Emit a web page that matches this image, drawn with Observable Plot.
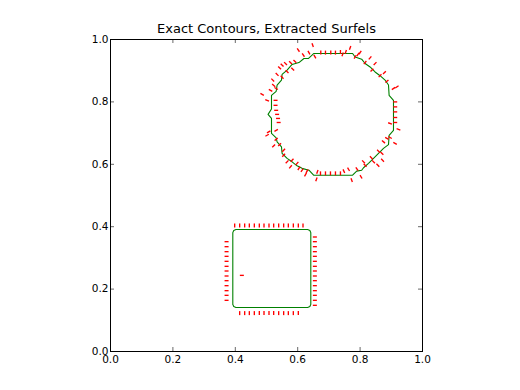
<!DOCTYPE html>
<html>
<head>
<meta charset="utf-8">
<script src="https://cdn.jsdelivr.net/npm/d3@7"></script>
<script src="https://cdn.jsdelivr.net/npm/@observablehq/plot@0.6"></script>
<style>
  html, body { margin: 0; padding: 0; background: #fff; }
  #chart { width: 520px; height: 390px; }
</style>
</head>
<body>
<div id="chart"></div>
<script>
const title = "Exact Contours, Extracted Surfels";
const xTicks = [0, 0.2, 0.4, 0.6, 0.8, 1.0];
const yTicks = [0, 0.2, 0.4, 0.6, 0.8, 1.0];

// Exact contour 1: rounded square
const squareX = [0.392,0.392,0.395,0.402,0.632,0.639,0.642,0.642,0.639,0.632,0.402,0.395,0.392];
const squareY = [0.151,0.381,0.388,0.391,0.391,0.388,0.381,0.151,0.144,0.141,0.141,0.144,0.151];

// Exact contour 2: polygonal circle
const circleX = [0.651,0.776,0.784,0.805,0.816,0.832,0.848,0.864,0.880,0.891,0.893,0.907,0.907,0.893,0.891,0.875,0.859,0.843,0.827,0.811,0.805,0.789,0.776,0.651,0.636,0.614,0.598,0.582,0.566,0.550,0.548,0.534,0.531,0.516,0.516,0.505,0.516,0.516,0.531,0.534,0.548,0.550,0.566,0.582,0.604,0.620,0.634,0.651];
const circleY = [0.955,0.955,0.944,0.937,0.923,0.912,0.896,0.884,0.870,0.854,0.821,0.805,0.709,0.693,0.663,0.651,0.635,0.619,0.603,0.589,0.581,0.578,0.565,0.565,0.581,0.587,0.595,0.608,0.619,0.635,0.656,0.672,0.685,0.699,0.747,0.760,0.777,0.821,0.834,0.854,0.870,0.888,0.902,0.920,0.926,0.939,0.939,0.955];

// Extracted surfels: centre x, centre y, normal angle (degrees)
const surfX = [
  0.398,0.414,0.430,0.445,0.461,0.477,0.492,0.508,0.523,0.539,0.555,0.570,0.586,0.602,0.617,
  0.372,0.372,0.372,0.372,0.372,0.372,0.372,0.372,0.372,0.372,0.372,0.372,0.372,
  0.655,0.655,0.655,0.655,0.655,0.655,0.655,0.655,0.655,0.655,0.655,0.655,0.655,0.655,0.655,
  0.414,0.430,0.445,0.461,0.477,0.492,0.508,0.523,0.539,0.555,0.570,0.586,0.602,
  0.421,
  0.648,0.636,0.655,0.674,0.689,0.706,0.721,0.737,0.602,0.618,0.591,0.577,0.561,0.550,0.584,0.542,0.566,0.534,0.550,0.520,0.523,0.513,0.531,0.486,0.502,0.529,0.529,
  0.531,0.534,0.537,0.539,0.507,0.502,0.531,0.531,0.523,0.542,0.555,0.555,0.566,0.582,0.577,0.598,0.604,0.614,0.630,0.625,0.663,0.660,0.673,0.689,0.705,0.721,0.737,
  0.748,0.763,0.773,0.803,0.790,0.811,0.816,0.836,0.843,0.857,0.859,0.870,0.872,0.875,0.886,0.896,0.912,0.896,0.923,
  0.9125,0.9125,0.9125,0.9125,0.9125,
  0.907,0.918,0.886,0.878,0.864,0.848,0.838,0.832,0.816,0.800,0.793,0.784,0.768,0.754,0.744
];
const surfY = [
  0.404,0.404,0.404,0.404,0.404,0.404,0.404,0.404,0.404,0.404,0.404,0.404,0.404,0.404,0.404,
  0.352,0.336,0.320,0.305,0.289,0.273,0.258,0.242,0.227,0.211,0.195,0.180,0.164,
  0.367,0.352,0.336,0.320,0.305,0.289,0.273,0.258,0.242,0.227,0.211,0.195,0.180,0.164,0.148,
  0.123,0.123,0.123,0.123,0.123,0.123,0.123,0.123,0.123,0.123,0.123,0.123,0.123,
  0.244,
  0.982,0.958,0.945,0.958,0.958,0.958,0.958,0.960,0.966,0.950,0.930,0.926,0.923,0.918,0.905,0.909,0.897,0.888,0.879,0.870,0.853,0.837,0.843,0.824,0.805,0.805,0.789,
  0.773,0.760,0.747,0.734,0.704,0.693,0.709,0.680,0.659,0.663,0.645,0.629,0.608,0.613,0.592,0.603,0.587,0.581,0.578,0.567,0.576,0.552,0.571,0.571,0.571,0.571,0.571,
  0.578,0.584,0.549,0.560,0.585,0.608,0.597,0.621,0.608,0.597,0.642,0.635,0.613,0.672,0.683,0.686,0.667,0.731,0.712,
  0.800,0.784,0.768,0.750,0.734,
  0.843,0.848,0.866,0.894,0.884,0.923,0.902,0.941,0.926,0.958,0.952,0.944,0.973,0.960,0.952
];
const surfAngle = [
  90,90,90,90,90,90,90,90,90,90,90,90,90,90,90,
  0,0,0,0,0,0,0,0,0,0,0,0,0,
  0,0,0,0,0,0,0,0,0,0,0,0,0,0,0,
  90,90,90,90,90,90,90,90,90,90,90,90,90,
  0,
  110,120,120,90,90,90,90,90,125,125,135,135,135,135,135,135,135,135,135,135,140,150,150,150,160,0,0,
  0,0,0,0,30,30,30,40,45,45,45,45,45,45,50,50,55,55,60,60,70,70,90,90,90,90,90,
  115,120,110,120,125,135,135,135,135,135,135,135,135,140,150,150,150,160,160,
  0,0,0,0,0,
  35,35,40,45,45,45,45,50,50,55,55,60,70,70,70
];

const contours = [
  ...squareX.map((x, i) => ({x, y: squareY[i], id: "square"})),
  ...circleX.map((x, i) => ({x, y: circleY[i], id: "circle"}))
];
const half = 2.0 / 312; // half surfel length in data units
const surfels = surfX.map((x, i) => {
  const a = surfAngle[i] * Math.PI / 180;
  const y = surfY[i];
  return {x1: x - half * Math.cos(a), y1: y - half * Math.sin(a), x2: x + half * Math.cos(a), y2: y + half * Math.sin(a)};
});
const tl = 4 / 312;
const fmt = d3.format(".1f");

const chart = Plot.plot({
  width: 520,
  height: 390,
  marginLeft: 110,
  marginRight: 98,
  marginTop: 39,
  marginBottom: 39,
  x: {domain: [0, 1]},
  y: {domain: [0, 1]},
  style: {fontFamily: "DejaVu Sans", fontSize: "10.5px", color: "#000", background: "#fff"},
  marks: [
    Plot.axisX(xTicks, {tickSize: 0, tickPadding: 4, tickFormat: fmt, label: null, fontSize: 10.5}),
    Plot.axisY(yTicks, {tickSize: 0, tickPadding: 2, tickFormat: fmt, label: null, fontSize: 10.5}),
    Plot.line(contours, {x: "x", y: "y", z: "id", stroke: "#008000", strokeWidth: 1.1, curve: "linear"}),
    Plot.link(surfels, {x1: "x1", y1: "y1", x2: "x2", y2: "y2", stroke: "#ff0000", strokeWidth: 1.35}),
    Plot.ruleX(xTicks, {y1: 0, y2: tl, stroke: "#000", strokeWidth: 0.6}),
    Plot.ruleX(xTicks, {y1: 1 - tl, y2: 1, stroke: "#000", strokeWidth: 0.6}),
    Plot.ruleY(yTicks, {x1: 0, x2: tl, stroke: "#000", strokeWidth: 0.6}),
    Plot.ruleY(yTicks, {x1: 1 - tl, x2: 1, stroke: "#000", strokeWidth: 0.6}),
    Plot.frame({stroke: "#000", strokeWidth: 1}),
    Plot.text([title], {frameAnchor: "top", lineAnchor: "middle", dy: -10.5, fontSize: 13, fill: "#000"})
  ]
});
document.getElementById("chart").appendChild(chart);
</script>
</body>
</html>
